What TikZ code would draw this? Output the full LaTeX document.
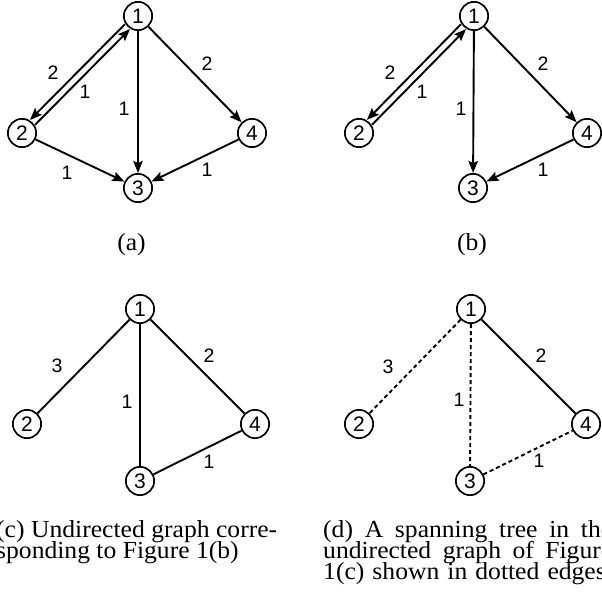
\documentclass[tikz,border=0pt]{standalone}
\usepackage{fontspec}
\setmainfont[FakeStretch=1.045]{Liberation Serif}
\setsansfont{Liberation Sans}
\usetikzlibrary{arrows.meta,calc}

\begin{document}
\begin{tikzpicture}[x=1pt,y=1pt,
  vtx/.style={circle,draw,line width=1.7pt,minimum size=28.3pt,inner sep=0pt,
    font=\sffamily\fontsize{21}{21}\selectfont},
  edg/.style={line width=1.9pt},
  arr/.style={edg,-{Stealth[length=12pt,width=9.5pt,inset=2pt]}},
  dots/.style={edg,dash pattern=on 4pt off 3pt},
  wt/.style={font=\sffamily\fontsize{19.5}{19.5}\selectfont,inner sep=0pt},
  capline/.style={font=\fontsize{24.5}{21.5}\selectfont,inner sep=0pt,anchor=base west},
  capsub/.style={font=\fontsize{24.5}{21.5}\selectfont,inner sep=0pt,anchor=base},
]
\useasboundingbox (0,0) rectangle (602,-597);
\clip (0,0) rectangle (602,-597);

% ---------- (a) directed graph ----------
\node[vtx] (a1) at (138,-16)  {1};
\node[vtx] (a2) at (22,-133)  {2};
\node[vtx] (a3) at (138,-188) {3};
\node[vtx] (a4) at (252,-133) {4};
\draw[arr,shorten <=14.9pt,shorten >=14.9pt]
  ($(a1)!3.5pt!-90:(a2)$) -- ($(a2)!3.5pt!90:(a1)$);
\draw[arr,shorten <=14.9pt,shorten >=14.9pt]
  ($(a2)!3.5pt!-90:(a1)$) -- ($(a1)!3.5pt!90:(a2)$);
\draw[arr] (a1) -- (a3);
\draw[arr] (a1) -- (a4);
\draw[arr] (a2) -- (a3);
\draw[arr] (a4) -- (a3);
\node[wt] (wa12) at (53,-73)  {2};
\node[wt] (wa21) at (85,-92)  {1};
\node[wt] (wa13) at (124,-109) {1};
\node[wt] (wa14) at (207,-64) {2};
\node[wt] (wa23) at (67,-173) {1};
\node[wt] (wa43) at (207,-170) {1};
\node[capsub] (capa) at (131.5,-250) {(a)};

% ---------- (b) directed graph ----------
\node[vtx] (b1) at (474,-16)  {1};
\node[vtx] (b2) at (359,-133) {2};
\node[vtx] (b3) at (473,-188) {3};
\node[vtx] (b4) at (587,-133) {4};
\draw[arr,shorten <=14.9pt,shorten >=14.9pt]
  ($(b1)!3.5pt!-90:(b2)$) -- ($(b2)!3.5pt!90:(b1)$);
\draw[arr,shorten <=14.9pt,shorten >=14.9pt]
  ($(b2)!3.5pt!-90:(b1)$) -- ($(b1)!3.5pt!90:(b2)$);
\draw[arr] (b1) -- (b3);
\draw[arr] (b1) -- (b4);
\draw[arr] (b4) -- (b3);
\node[wt] (wb12) at (390,-73)  {2};
\node[wt] (wb21) at (422,-92)  {1};
\node[wt] (wb13) at (461,-109) {1};
\node[wt] (wb14) at (543,-64)  {2};
\node[wt] (wb43) at (543,-170) {1};
\node[capsub] (capb) at (472,-250) {(b)};

% ---------- (c) undirected graph ----------
\node[vtx] (c1) at (140,-309) {1};
\node[vtx] (c2) at (27,-424)  {2};
\node[vtx] (c3) at (140,-481) {3};
\node[vtx] (c4) at (255,-424) {4};
\draw[edg] (c1) -- (c2);
\draw[edg] (c1) -- (c3);
\draw[edg] (c1) -- (c4);
\draw[edg] (c3) -- (c4);
\node[wt] (wc12) at (57,-366)  {3};
\node[wt] (wc13) at (127,-402) {1};
\node[wt] (wc14) at (209,-356) {2};
\node[wt] (wc34) at (209,-462) {1};
\node[capline] (capc1) at (-4,-537) {\makebox[281pt][s]{(c) Undirected graph corre-}};
\node[capline] (capc2) at (-4,-558) {sponding to Figure 1(b)};

% ---------- (d) spanning tree ----------
\node[vtx] (d1) at (471,-309) {1};
\node[vtx] (d2) at (359,-424) {2};
\node[vtx] (d3) at (470,-481) {3};
\node[vtx] (d4) at (586,-424) {4};
\draw[dots] (d1) -- (d2);
\draw[dots] (d1) -- (d3);
\draw[edg]  (d1) -- (d4);
\draw[dots] (d3) -- (d4);
\node[wt] (wd12) at (388,-367) {3};
\node[wt] (wd13) at (459,-400) {1};
\node[wt] (wd14) at (541,-356) {2};
\node[wt] (wd34) at (539,-461) {1};
\node[capline] (capd1) at (323,-537) {\makebox[289pt][s]{(d) A spanning tree in the}};
\node[capline] (capd2) at (323,-558) {\makebox[289pt][s]{undirected graph of Figure}};
\node[capline] (capd3) at (323,-579) {\makebox[289pt][s]{1(c) shown in dotted edges.}};
\end{tikzpicture}
\end{document}
